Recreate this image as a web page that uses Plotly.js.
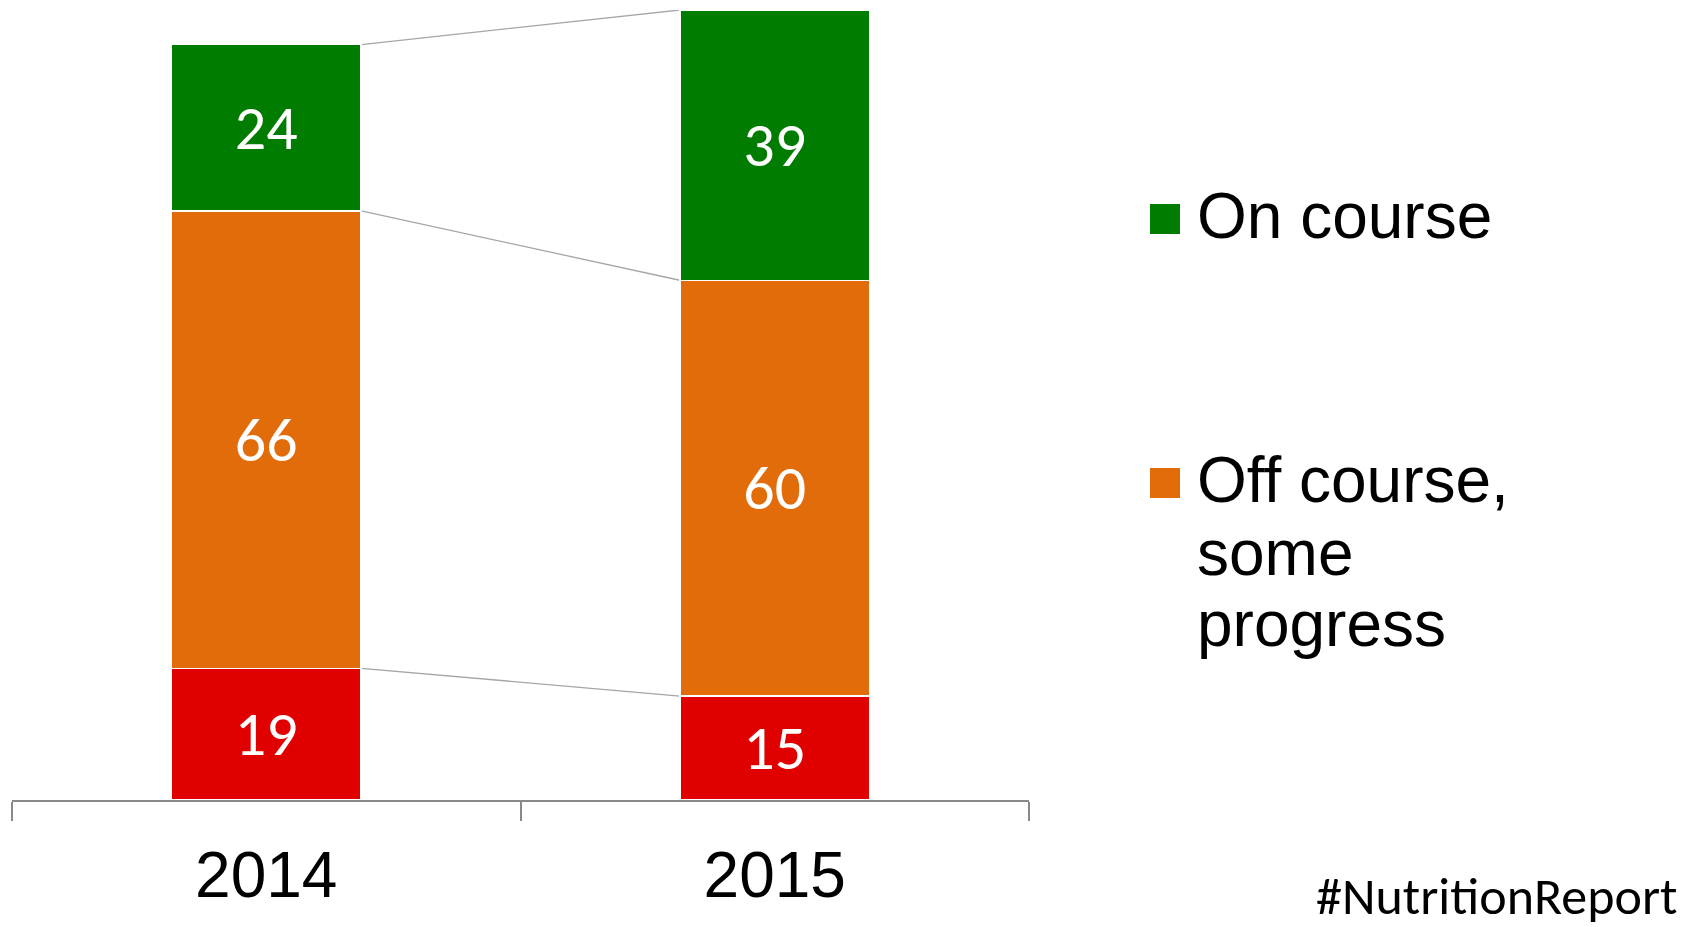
<!DOCTYPE html>
<html>
<head>
<meta charset="utf-8">
<script src="https://cdn.plot.ly/plotly-3.0.1.min.js"></script>
<style>html,body{margin:0;padding:0;background:#fff;}#chart{width:1696px;height:927px;}</style>
</head>
<body>
<div id="chart"></div>
<script>
// ---- data ----
const years = ['2014', '2015'];
const offCourseNoProgress = [19, 15];
const offCourseSomeProgress = [66, 60];
const onCourse = [24, 39];
const seriesNames = ['Off course, no progress', 'Off course, some progress', 'On course'];
const seriesColors = ['#E00000', '#E36C0A', '#007C00'];
const legendLines = [['On course'], ['Off course,', 'some', 'progress']];
const legendColors = ['#007C00', '#E36C0A'];
const sourceTag = '#NutritionReport';

// ---- layout geometry ----
const W = 1696, H = 927;
const M = {l: 12, r: 667, t: 10, b: 127};
const PW = W - M.l - M.r, PH = H - M.t - M.b;
const px = x => (x - M.l) / PW;
const py = y => 1 - (y - M.t) / PH;
const barW = 0.3736;

const series = [offCourseNoProgress, offCourseSomeProgress, onCourse];
const traces = series.map((vals, i) => ({
  type: 'bar',
  x: years,
  y: vals,
  name: seriesNames[i],
  width: barW,
  marker: {color: seriesColors[i], line: {color: '#ffffff', width: 1.5}},
  text: vals.map(String),
  textposition: 'inside',
  insidetextanchor: 'middle',
  constraintext: 'none',
  textfont: {family: 'Carlito, "Open Sans", sans-serif', size: 62, color: '#ffffff'},
  showlegend: false,
  hoverinfo: 'x+y+name',
  cliponaxis: false
}));

// connector lines between stack boundaries
const shapes = [];
let c0 = 0, c1 = 0;
series.forEach(vals => {
  c0 += vals[0]; c1 += vals[1];
  shapes.push({type: 'line', xref: 'x', yref: 'y',
    x0: 0 + barW / 2, y0: c0, x1: 1 - barW / 2, y1: c1,
    line: {color: '#A6A6A6', width: 1.3}, layer: 'below'});
});

// custom legend
const annotations = [];
const legendCenters = [219, 483];
const legendLineOffsets = [0, 73, 144];
legendLines.forEach((lines, i) => {
  const cy = legendCenters[i];
  shapes.push({type: 'rect', xref: 'paper', yref: 'paper',
    x0: px(1150), x1: px(1180), y0: py(cy - 15), y1: py(cy + 15),
    fillcolor: legendColors[i], line: {width: 0}});
  lines.forEach((t, k) => {
    annotations.push({xref: 'paper', yref: 'paper', x: px(1195), y: py(cy - 3 + legendLineOffsets[k]),
      xanchor: 'left', yanchor: 'middle', showarrow: false, text: t,
      font: {family: '"Liberation Sans", Arial, sans-serif', size: 64, color: '#000000'}});
  });
});
annotations.push({xref: 'paper', yref: 'paper', x: px(1678), y: py(896),
  xanchor: 'right', yanchor: 'middle', showarrow: false, text: sourceTag, borderpad: 0,
  font: {family: 'Carlito, "Open Sans", sans-serif', size: 52, color: '#000000'}});

const layout = {
  width: W, height: H,
  margin: M,
  paper_bgcolor: '#ffffff', plot_bgcolor: '#ffffff',
  barmode: 'stack',
  showlegend: false,
  xaxis: {
    type: 'category',
    range: [-0.5, 1.5],
    showline: true, linecolor: '#898989', linewidth: 2,
    ticks: 'outside', tickson: 'boundaries', ticklen: 19, tickwidth: 2, tickcolor: '#898989',
    ticklabelstandoff: 18,
    tickfont: {family: '"Liberation Sans", Arial, sans-serif', size: 64, color: '#000000'},
    showgrid: false, zeroline: false, fixedrange: true
  },
  yaxis: {
    range: [0, 114],
    visible: false, showgrid: false, zeroline: false, fixedrange: true
  },
  shapes: shapes,
  annotations: annotations
};

Plotly.newPlot('chart', traces, layout, {displayModeBar: false, staticPlot: true});
</script>
</body>
</html>
